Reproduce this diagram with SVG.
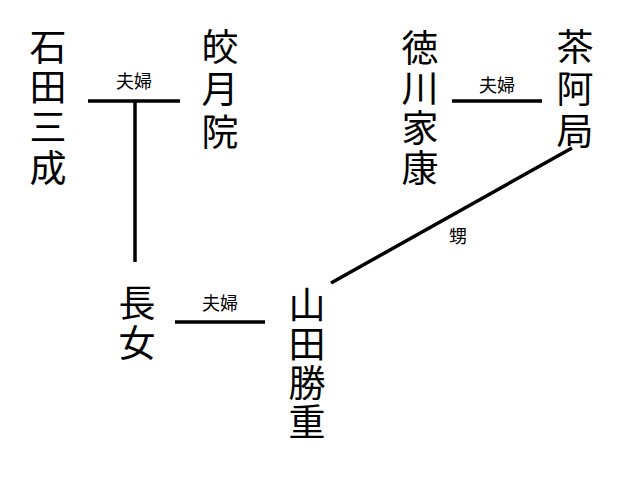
<svg xmlns="http://www.w3.org/2000/svg" width="640" height="480" viewBox="0 0 640 480">
<style>
.n{font-family:"Noto Sans CJK JP",sans-serif;font-size:37px;fill:#000;text-anchor:middle;dominant-baseline:central}
.l{font-family:"Noto Sans CJK JP",sans-serif;font-size:18px;fill:#000;text-anchor:middle;dominant-baseline:central}
line{stroke:#000;stroke-width:3.5}
</style>
<rect width="640" height="480" fill="#fff"/>
<g id="connectors">
<line x1="88" y1="101" x2="180" y2="101"/>
<line x1="135" y1="101" x2="135" y2="262"/>
<line x1="452" y1="101" x2="542" y2="101"/>
<line x1="572" y1="148" x2="331" y2="283"/>
<line x1="175" y1="322" x2="265" y2="322"/>
<text class="l" x="134" y="80">夫婦</text>
<text class="l" x="497" y="84">夫婦</text>
<text class="l" x="220" y="302">夫婦</text>
<text class="l" x="458" y="235">甥</text>
</g>
<g id="ishida"><text class="n"><tspan x="48" y="45">石</tspan><tspan x="48" y="85">田</tspan><tspan x="48" y="125">三</tspan><tspan x="48" y="166">成</tspan></text></g>
<g id="kogetsuin"><text class="n"><tspan x="220" y="45">皎</tspan><tspan x="220" y="87">月</tspan><tspan x="220" y="130">院</tspan></text></g>
<g id="ieyasu"><text class="n"><tspan x="420" y="46">徳</tspan><tspan x="420" y="86">川</tspan><tspan x="420" y="126">家</tspan><tspan x="420" y="166">康</tspan></text></g>
<g id="chaanotsubone"><text class="n"><tspan x="575" y="45">茶</tspan><tspan x="575" y="87">阿</tspan><tspan x="575" y="129">局</tspan></text></g>
<g id="chojo"><text class="n"><tspan x="137" y="301">長</tspan><tspan x="137" y="341">女</tspan></text></g>
<g id="katsushige"><text class="n"><tspan x="307" y="303">山</tspan><tspan x="307" y="342">田</tspan><tspan x="307" y="381">勝</tspan><tspan x="307" y="420">重</tspan></text></g>
</svg>
